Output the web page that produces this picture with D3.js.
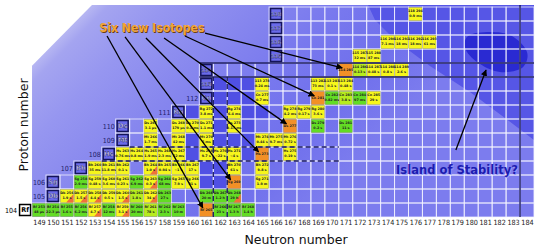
<!DOCTYPE html>
<html>
<head>
<meta charset="utf-8">
<script src="https://cdn.jsdelivr.net/npm/d3@7"></script>
<style>
html,body{margin:0;padding:0;background:#fff;}
svg{display:block;}
</style>
</head>
<body>
<svg id="chart" width="540" height="252"></svg>
<script>
// ---------------- data ----------------
const neutronTicks = [149,150,151,152,153,154,155,156,157,158,159,160,161,162,163,164,165,166,
                      167,168,169,170,171,172,173,174,175,176,177,178,179,180,181,182,183,184];
const protonRows   = [104,105,106,107,108,109,110,111,112,113,114,115,116,117,118];
const rowSymbols   = ["Rf","Db","Sg","Bh","Hs","Mt","Ds","Rg","Cn","113","114","115","116","117","118"];
const rowBoxN      = [148,150,150,152,154,155,155,159,161,161,161,166,166,166,166];
const rowGridStartN= [149,150,150,152,154,155,155,159,161,161,161,166,166,166,166];
const rowLabelN    = [147,149,149,151,153,154,154,158,160,null,null,null,null,null,null];

// [Z, N, decay type, half-life]  a = alpha (yellow), s = fission (green), n = new isotope (orange)
// at/st = with orange corner, as = mixed alpha/fission
const isotopes = [
  [104,149,"s","48 μs"],[104,150,"s","22.3 μs"],[104,151,"s","1.6 s"],[104,152,"s","6.2 ms"],
  [104,153,"at","4.7 s"],[104,154,"s","12 ms"],[104,155,"at","3.1 s"],[104,156,"s","20 ms"],
  [104,157,"as","78 s"],[104,158,"s","2.3 s"],[104,159,"s","10 m"],[104,161,"n",""],
  [104,162,"s","23 s"],[104,163,"s","1.3 h"],[104,164,"s","1.4 h"],
  [105,151,"at","1.9 s"],[105,152,"at","1.5 s"],[105,153,"at","4.4 s"],[105,154,"a","0.5 s"],
  [105,155,"at","1.5 s"],[105,156,"as","1.8 s"],[105,157,"at","34 s"],[105,158,"s","27 s"],
  [105,161,"s","20 m"],[105,162,"s","1.2 h"],[105,163,"st","29 h"],
  [106,152,"s","2.9 ms"],[106,153,"a","0.48 s"],[106,154,"a","3.6 ms"],[106,155,"a","0.23 s"],
  [106,156,"s","6.9 ms"],[106,157,"at","0.3 s"],[106,158,"s","68 ms"],[106,159,"a","7.9 s"],
  [106,160,"a","21 s"],[106,163,"n",""],[106,165,"a","1.9 m"],
  [107,153,"a","35 ms"],[107,154,"a","11.8 ms"],[107,155,"a","0.1 s"],[107,157,"at","1.0 s"],
  [107,158,"a","0.94 s"],[107,159,"a","~1 s"],[107,160,"a","17 s"],[107,163,"a","61 s"],
  [107,165,"a","9.8 s"],
  [108,155,"a","0.76 ms"],[108,156,"a","0.8 ms"],[108,157,"a","1.9 ms"],[108,158,"a","2.3 ms"],
  [108,159,"a","52 ms"],[108,161,"a","9.7 s"],[108,162,"a","~22 s"],[108,163,"a","~4 s"],
  [108,165,"n",""],[108,167,"a","0.19 s"],
  [109,157,"a","1.7 ms"],[109,159,"a","42 ms"],[109,161,"a","5 ms"],[109,165,"a","0.44 s"],
  [109,166,"a","9.7 ms"],[109,167,"a","0.72 s"],
  [110,157,"a","3.1 μs"],[110,159,"a","179 μs"],[110,160,"a","0.1 ms"],[110,161,"a","1.1 ms"],
  [110,163,"a","0.17 ms"],[110,167,"n",""],[110,169,"s","0.2 s"],[110,171,"s","11 s"],
  [111,161,"a","3.8 ms"],[111,163,"a","6.4 ms"],[111,167,"a","4.2 ms"],[111,168,"a","0.17 s"],
  [111,169,"a","3.6 s"],
  [112,165,"a","0.7 ms"],[112,169,"n",""],[112,170,"s","0.82 ms"],[112,171,"as","3.8 s"],
  [112,172,"s","97 ms"],[112,173,"a","29 s"],
  [113,165,"a","0.24 ms"],[113,169,"a","73 ms"],[113,170,"a","0.1 s"],[113,171,"a","0.48 s"],
  [114,171,"n",""],[114,172,"as","0.13 s"],[114,173,"a","0.48 s"],[114,174,"a","0.8 s"],[114,175,"a","2.6 s"],
  [115,172,"a","32 ms"],[115,173,"a","87 ms"],
  [116,174,"a","7.1 ms"],[116,175,"a","18 ms"],[116,176,"a","18 ms"],[116,177,"a","61 ms"],
  [118,176,"a","0.9 ms"]
];

// background shading (data coordinates: [N, Z])
const chartOutline   = [[148.5,103.5],[148.5,114.3],[152.8,118.64],[184.5,118.64],[184.5,103.5]];
const upperDarkRegion= [[172.6,118.64],[184.5,118.64],[184.5,109.0],[182.42,110.57],[179.91,112.43],
                        [177.04,114.29],[174.53,116.14],[173.1,117.57]];
const islandCore     = [[179.77,116.43],[181.35,116.71],[182.92,116.43],[184.0,115.29],[183.64,114.14],
                        [182.06,113.86],[180.63,114.43],[179.62,115.43]];
const deformedShadeCells = [[113,162],[113,163],[113,164],
  [112,161],[112,162],[112,163],[112,164],
  [111,160],[111,161],[111,162],[111,163],[111,164],[111,165],
  [110,160],[110,161],[110,162],[110,163],[110,164],
  [109,160],[109,161],[109,162],[109,163],[109,164],
  [108,160],[108,161],[108,162],[108,163],[108,164],
  [107,161],[107,162],[106,161],[106,162]];

const sphericalShellZ = [113.5,114.5];
const sphericalShellN = [183.5];
const deformedShellN  = [161.5,162.5];
const deformedShellZ  = [107.5,108.5];

const sixLabel   = "Six New Isotopes";
const sixAnchor  = [157.1,116.72];
const sixArrowStarts = [[153.88,116.43],[155.17,116.36],[156.67,116.29],[157.97,116.29],[159.47,116.43],[160.91,116.64]];
const newIsotopeTargets = [[104,161],[106,163],[108,165],[110,167],[112,169],[114,171]];
const islandLabel  = "Island of Stability?";
const islandAnchor = [178.98,106.57];
const islandArrow  = [[178.9,108.29],[181.06,114.0]];

// ---------------- drawing ----------------
const svg = d3.select("#chart");
const x = d3.scaleLinear().domain([149,184]).range([39,527]);
const y = d3.scaleLinear().domain([104,118]).range([210,14]);
const cw = x(150)-x(149), rh = y(104)-y(105);
const poly = d3.line().x(d=>x(d[0])).y(d=>y(d[1]));

const defs = svg.append("defs");
const grad = defs.append("linearGradient").attr("id","bg").attr("gradientUnits","userSpaceOnUse")
  .attr("x1",x(148.5)).attr("y1",y(114.3)).attr("x2",x(148.5)+210).attr("y2",y(114.3)+210);
[[0,"#b6b6f2"],[0.04,"#a4a4f0"],[0.18,"#9696f0"],[0.4,"#8686ee"],[0.6,"#7878ee"],[0.8,"#7070ec"],[1,"#7c7cee"]]
  .forEach(s=>grad.append("stop").attr("offset",s[0]).attr("stop-color",s[1]));
defs.append("marker").attr("id","ah").attr("viewBox","0 0 10 10").attr("refX",9).attr("refY",5)
  .attr("markerWidth",5).attr("markerHeight",5).attr("orient","auto")
  .append("path").attr("d","M0,0 L10,5 L0,10 Z").attr("fill","#000");

const bg = svg.append("g");
bg.append("path").attr("d",poly(chartOutline)+"Z").attr("fill","url(#bg)");
bg.append("path").attr("d",poly(upperDarkRegion)+"Z").attr("fill","#5656e6");
bg.selectAll("rect.dk").data(deformedShadeCells).join("rect").attr("class","dk")
  .attr("x",d=>x(d[1])-cw/2).attr("y",d=>y(d[0])-rh/2).attr("width",cw).attr("height",rh)
  .attr("fill","#5050e4");
bg.append("path").attr("d",d3.line().x(d=>x(d[0])).y(d=>y(d[1])).curve(d3.curveCardinalClosed)(islandCore))
  .attr("fill","#2a2ad2");

// grid
const gridCells = [];
protonRows.forEach((z,i)=>{ for(let n=rowGridStartN[i]; n<=184; n++) gridCells.push([z,n]); });
svg.append("g").selectAll("rect").data(gridCells).join("rect")
  .attr("x",d=>x(d[1])-cw/2).attr("y",d=>y(d[0])-rh/2).attr("width",cw).attr("height",rh)
  .attr("fill","none").attr("stroke","#f4f4ff").attr("stroke-width",1).attr("opacity",0.75);

// isotope cells
const fillOf = {a:"#f6f61c", s:"#62dc24", n:"#f29026", at:"#f6f61c", st:"#62dc24", as:"#b6ec1e"};
const symOf = z => rowSymbols[protonRows.indexOf(z)];
const cg = svg.append("g").selectAll("g").data(isotopes).join("g")
  .attr("transform",d=>`translate(${x(d[1])-cw/2},${y(d[0])-rh/2})`);
cg.append("rect").attr("x",0.4).attr("y",0.4).attr("width",cw-0.8).attr("height",rh-0.8)
  .attr("fill",d=>fillOf[d[2]]).attr("stroke","#8a8a60").attr("stroke-width",0.3);
cg.filter(d=>d[2]==="at"||d[2]==="st").append("path")
  .attr("d",`M${cw-0.4},${rh*0.35} L${cw-0.4},${rh-0.4} L${cw*0.45},${rh-0.4} Z`).attr("fill","#f0703a");
cg.append("text").attr("x",cw/2).attr("y",d=>d[2]==="n"?rh/2+1.2:5)
  .attr("text-anchor","middle").attr("font-family","DejaVu Sans").attr("font-size",3.3).attr("font-weight","bold")
  .attr("fill","#222").text(d=>`${symOf(d[0])} ${d[0]+d[1]}`);
cg.filter(d=>d[3]).append("text").attr("x",cw/2).attr("y",10.2)
  .attr("text-anchor","middle").attr("font-family","DejaVu Sans").attr("font-size",3.3).attr("font-weight","bold")
  .attr("fill","#222").text(d=>d[3]);

// shell lines
const lines = svg.append("g").attr("stroke","#161660").attr("fill","none");
sphericalShellZ.forEach(z=>lines.append("line").attr("x1",x(160.5)).attr("x2",x(184.5))
  .attr("y1",y(z)).attr("y2",y(z)).attr("stroke-width",1.4));
sphericalShellN.forEach(n=>lines.append("line").attr("x1",x(n)).attr("x2",x(n))
  .attr("y1",y(103.5)).attr("y2",y(118.64)).attr("stroke-width",1.4));
deformedShellN.forEach(n=>lines.append("line").attr("x1",x(n)).attr("x2",x(n))
  .attr("y1",y(103.5)).attr("y2",y(113.5)).attr("stroke-width",1.3).attr("stroke-dasharray","5,3"));
deformedShellZ.forEach((z,i)=>lines.append("line").attr("x1",x(i?155.5:153.5)).attr("x2",x(170.5))
  .attr("y1",y(z)).attr("y2",y(z)).attr("stroke-width",1.3).attr("stroke-dasharray","5,3"));

// element boxes
const boxes = svg.append("g").selectAll("g").data(protonRows).join("g")
  .attr("transform",(z,i)=>`translate(${x(rowBoxN[i])},${y(z)})`);
boxes.append("rect").attr("x",-5.5).attr("y",-5.5).attr("width",11).attr("height",11)
  .attr("fill",(z,i)=>i===0?"#fff":"#6a6aea").attr("stroke",(z,i)=>i===0?"#000":"#14145a").attr("stroke-width",1.5);
boxes.append("text").attr("text-anchor","middle").attr("y",2.3)
  .attr("font-family","DejaVu Sans").attr("font-weight","bold")
  .attr("font-size",(z,i)=>rowSymbols[i].length>2?5:6.5)
  .attr("fill",(z,i)=>i===0?"#000":"#dcdcff").attr("stroke",(z,i)=>i===0?"none":"#14145a").attr("stroke-width",0.35)
  .text((z,i)=>rowSymbols[i]);

// row labels
svg.append("g").selectAll("text").data(protonRows.filter((z,i)=>rowLabelN[i]!==null)).join("text")
  .attr("x",z=>x(rowLabelN[protonRows.indexOf(z)])).attr("y",z=>y(z)+2.5)
  .attr("text-anchor","middle").attr("font-family","DejaVu Sans").attr("font-stretch","condensed")
  .attr("font-size",7).attr("fill",z=>z===104?"#000":"#20206a").text(z=>z);

// x axis
const ax = svg.append("g").attr("transform",`translate(0,${y(103.5)})`)
  .call(d3.axisBottom(x).tickValues(neutronTicks).tickSize(0).tickPadding(3).tickFormat(d3.format("d")));
ax.select(".domain").remove();
ax.selectAll("text").attr("font-family","DejaVu Sans").attr("font-stretch","condensed")
  .attr("font-size",7.2).attr("fill","#222");

// axis titles
svg.append("text").attr("x",296).attr("y",244).attr("text-anchor","middle")
  .attr("font-family","DejaVu Sans").attr("font-size",12.5).attr("fill","#111").text("Neutron number");
svg.append("text").attr("transform","translate(28,125) rotate(-90)").attr("text-anchor","middle")
  .attr("font-family","DejaVu Sans").attr("font-size",12.5).attr("fill","#111").text("Proton number");

// arrows from "Six New Isotopes"
const arr = svg.append("g");
sixArrowStarts.forEach((s,i)=>{
  const t = newIsotopeTargets[i];
  arr.append("line").attr("x1",x(s[0])).attr("y1",y(s[1]))
    .attr("x2",x(t[1]-0.25)).attr("y2",y(t[0]+0.15))
    .attr("stroke","#000").attr("stroke-width",1.3).attr("marker-end","url(#ah)");
});
const sixG = svg.append("g").attr("font-family","DejaVu Sans").attr("font-weight","bold")
  .attr("font-size",13).attr("text-anchor","middle");
sixG.append("text").attr("x",x(sixAnchor[0])+1).attr("y",y(sixAnchor[1])+1)
  .attr("textLength",105).attr("lengthAdjust","spacingAndGlyphs").attr("fill","#6a4010").text(sixLabel);
sixG.append("text").attr("x",x(sixAnchor[0])).attr("y",y(sixAnchor[1]))
  .attr("textLength",105).attr("lengthAdjust","spacingAndGlyphs").attr("fill","#f2a436").text(sixLabel);

// island arrow & label
svg.append("line").attr("x1",x(islandArrow[0][0])).attr("y1",y(islandArrow[0][1]))
  .attr("x2",x(islandArrow[1][0])).attr("y2",y(islandArrow[1][1]))
  .attr("stroke","#000").attr("stroke-width",1.3).attr("marker-end","url(#ah)");
const isG = svg.append("g").attr("font-family","DejaVu Sans").attr("font-weight","bold")
  .attr("font-size",13).attr("text-anchor","middle");
isG.append("text").attr("x",x(islandAnchor[0])+0.8).attr("y",y(islandAnchor[1])+0.8)
  .attr("textLength",122).attr("lengthAdjust","spacingAndGlyphs").attr("fill","#9a9af6").text(islandLabel);
isG.append("text").attr("x",x(islandAnchor[0])).attr("y",y(islandAnchor[1]))
  .attr("textLength",122).attr("lengthAdjust","spacingAndGlyphs").attr("fill","#1c1cb0").text(islandLabel);
</script>
</body>
</html>
